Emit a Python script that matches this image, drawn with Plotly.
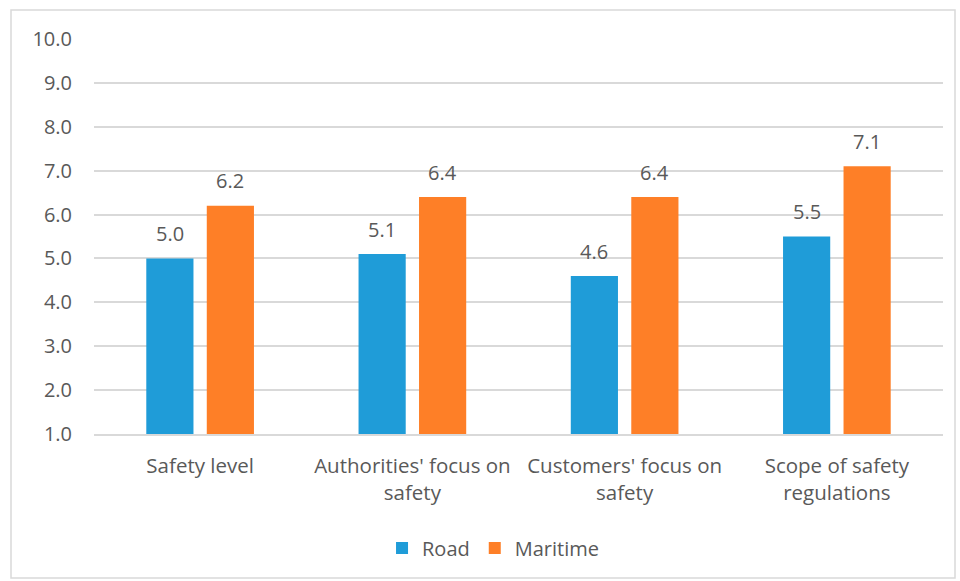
import plotly.graph_objects as go

categories = ["Safety level", "Authorities' focus on<br>safety",
              "Customers' focus on<br>safety", "Scope of safety<br>regulations"]
road = [5.0, 5.1, 4.6, 5.5]
maritime = [6.2, 6.4, 6.4, 7.1]
tick_vals = [1, 2, 3, 4, 5, 6, 7, 8, 9, 10]
tick_text = ["1.0", "2.0", "3.0", "4.0", "5.0", "6.0", "7.0", "8.0", "9.0", "10.0"]

ROAD_COLOR = "#1f9cd8"
MARITIME_COLOR = "#fe7f27"
TEXT_COLOR = "#595959"
GRID_COLOR = "#d9d9d9"
FONT = "'Open Sans', sans-serif"

# plot area in pixels (used to place the outer frame)
L, R, T, B = 94, 943, 39, 434
W, H = 960, 581

fig = go.Figure()
# bars start at 1.0, so each bar is drawn from base 1 with height value - 1
fig.add_trace(go.Bar(x=categories, y=[v - 1 for v in road], base=1, name="Road",
                     marker=dict(color=ROAD_COLOR, line=dict(width=0))))
fig.add_trace(go.Bar(x=categories, y=[v - 1 for v in maritime], base=1, name="Maritime",
                     marker=dict(color=MARITIME_COLOR, line=dict(width=0))))

annotations = []
for vals, shift in ((road, -30.3), (maritime, 30.3)):
    for c, v in zip(categories, vals):
        annotations.append(dict(x=c, y=v, xref="x", yref="y", text=f"{v:.1f}",
                                showarrow=False, xshift=shift, yshift=25,
                                font=dict(size=20, color=TEXT_COLOR, family=FONT)))

fig.update_layout(
    width=W, height=H,
    margin=dict(l=L, r=W - R, t=T, b=H - B),
    paper_bgcolor="white", plot_bgcolor="white",
    barmode="group", bargap=0.43, bargroupgap=0.22,
    font=dict(family=FONT, color=TEXT_COLOR, size=20),
    showlegend=True,
    legend=dict(orientation="h", x=0.47, xanchor="center", y=(B - 548) / (B - T),
                yanchor="middle", font=dict(size=20, color=TEXT_COLOR, family=FONT),
                itemwidth=30, traceorder="normal"),
    annotations=annotations,
    shapes=[dict(type="rect", xref="paper", yref="paper",
                 x0=(11 - L) / (R - L), x1=(955 - L) / (R - L),
                 y0=(B - 578) / (B - T), y1=(B - 10) / (B - T),
                 line=dict(color=GRID_COLOR, width=1.5), fillcolor="rgba(0,0,0,0)",
                 layer="below")],
)
fig.update_yaxes(range=[1, 10], tickvals=tick_vals, ticktext=tick_text,
                 showgrid=True, gridcolor=GRID_COLOR, gridwidth=1.5,
                 zeroline=False, showline=False, ticks="",
                 ticklabelstandoff=21, tickfont=dict(size=20, color=TEXT_COLOR))
fig.update_xaxes(showline=True, linecolor=GRID_COLOR, linewidth=1.5, ticks="",
                 tickfont=dict(size=20.5, color=TEXT_COLOR), ticklabelstandoff=13)

fig.write_html("out.html")
